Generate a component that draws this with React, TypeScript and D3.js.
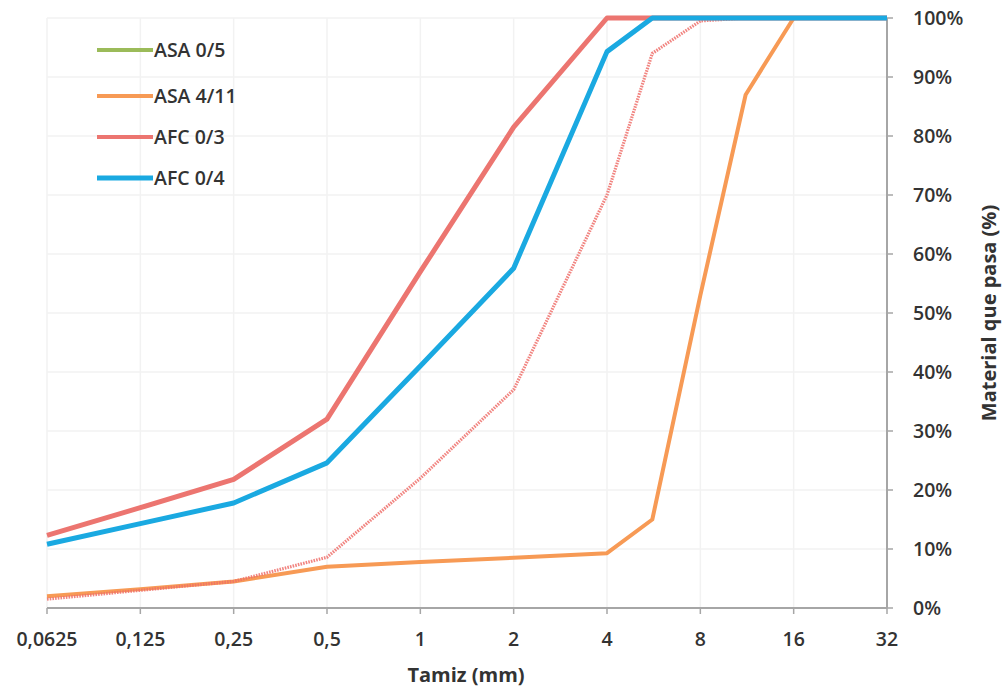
import React from "react";
import * as d3 from "d3";

const sieves = [0.0625, 0.125, 0.25, 0.5, 1, 2, 4, 5.6, 8, 11.2, 16, 32];
const xTicks = [0.0625, 0.125, 0.25, 0.5, 1, 2, 4, 8, 16, 32];
const xTickLabels = ["0,0625", "0,125", "0,25", "0,5", "1", "2", "4", "8", "16", "32"];
const yTicks = [0, 10, 20, 30, 40, 50, 60, 70, 80, 90, 100];

const asa05 = [1.5, 3, 4.5, 8.6, 22, 37, 70, 94, 99.5, 100, 100, 100];
const asa411 = [2, 3.2, 4.5, 7, 7.8, 8.5, 9.3, 15, 53, 87, 100, 100];
const afc03 = [12.3, 17, 21.8, 32, 57, 81.5, 100, 100, 100, 100, 100, 100];
const afc04 = [10.8, 14.3, 17.8, 24.6, 41, 57.6, 94.3, 100, 100, 100, 100, 100];

const seriesNames = ["ASA 0/5", "ASA 4/11", "AFC 0/3", "AFC 0/4"];

export default function App() {
  const W = 1004, H = 689;
  const x = d3.scaleLog().base(2).domain([0.0625, 32]).range([47, 887]);
  const y = d3.scaleLinear().domain([0, 100]).range([608, 18]);
  const line = (vals: number[]) =>
    d3.line<number>().x((_, i) => x(sieves[i])).y((v) => y(v))(vals) || "";

  const font = "'Open Sans', 'Liberation Sans', sans-serif";
  const textColor = "#333";
  const axisColor = "#a6a6a6";
  const gridColor = "#f2f2f2";

  const series = [
    { name: seriesNames[0], vals: asa05, color: "#ee6f6a", legendColor: "#9bbb59", width: 3.2, dash: "1.6 1.1", opacity: 0.85 },
    { name: seriesNames[1], vals: asa411, color: "#f79a55", legendColor: "#f79a55", width: 4, dash: undefined, opacity: 1 },
    { name: seriesNames[2], vals: afc03, color: "#ec7570", legendColor: "#ec7570", width: 5, dash: undefined, opacity: 1 },
    { name: seriesNames[3], vals: afc04, color: "#1aa9e1", legendColor: "#1aa9e1", width: 5, dash: undefined, opacity: 1 },
  ];
  const drawOrder = [1, 0, 2, 3];
  const legendY = [50, 96, 137, 178];

  return (
    <svg width={W} height={H} style={{ position: "absolute", left: 0, top: 0, background: "#fff" }}>
      <rect width={W} height={H} fill="#fff" />
      {/* gridlines */}
      {xTicks.map((t) => (
        <line key={"gx" + t} x1={x(t)} x2={x(t)} y1={y(0)} y2={y(100)} stroke={gridColor} strokeWidth={1.5} />
      ))}
      {yTicks.map((t) => (
        <line key={"gy" + t} x1={x(0.0625)} x2={x(32)} y1={y(t)} y2={y(t)} stroke={gridColor} strokeWidth={1.5} />
      ))}
      {/* x axis */}
      <line x1={x(0.0625)} x2={x(32)} y1={y(0)} y2={y(0)} stroke={axisColor} strokeWidth={2} />
      {xTicks.map((t, i) => (
        <g key={"xt" + t}>
          <line x1={x(t)} x2={x(t)} y1={y(0)} y2={y(0) + 6} stroke={axisColor} strokeWidth={1.5} />
          <text x={x(t)} y={646} textAnchor="middle" fontFamily={font} fontSize={19.5} fontWeight={600} fill={textColor}>
            {xTickLabels[i]}
          </text>
        </g>
      ))}
      {/* y axis */}
      <line x1={x(32)} x2={x(32)} y1={y(0)} y2={y(100)} stroke={axisColor} strokeWidth={2} />
      {yTicks.map((t) => (
        <g key={"yt" + t}>
          <line x1={x(32)} x2={x(32) + 6} y1={y(t)} y2={y(t)} stroke={axisColor} strokeWidth={1.5} />
          <text x={913} y={y(t) + 7} textAnchor="start" fontFamily={font} fontSize={19.5} fontWeight={600} fill={textColor}>
            {t + "%"}
          </text>
        </g>
      ))}
      {/* axis titles */}
      <text x={466} y={682} textAnchor="middle" fontFamily={font} fontSize={20} fontWeight={700} fill={textColor}>
        Tamiz (mm)
      </text>
      <text
        transform={`translate(996, ${y(50)}) rotate(-90)`}
        textAnchor="middle"
        fontFamily={font}
        fontSize={20}
        fontWeight={700}
        fill={textColor}
      >
        Material que pasa (%)
      </text>
      {/* series */}
      {drawOrder.map((k) => {
        const s = series[k];
        return (
          <path
            key={s.name}
            d={line(s.vals)}
            fill="none"
            stroke={s.color}
            strokeWidth={s.width}
            strokeDasharray={s.dash}
            strokeLinejoin="round"
            opacity={s.opacity}
          />
        );
      })}
      {/* legend */}
      {series.map((s, i) => (
        <g key={"lg" + s.name}>
          <line x1={97} x2={153} y1={legendY[i]} y2={legendY[i]} stroke={s.legendColor} strokeWidth={i === 3 ? 5 : 4} />
          <text x={154} y={legendY[i] + 7} fontFamily={font} fontSize={19.5} fontWeight={600} fill={textColor}>
            {s.name}
          </text>
        </g>
      ))}
    </svg>
  );
}
